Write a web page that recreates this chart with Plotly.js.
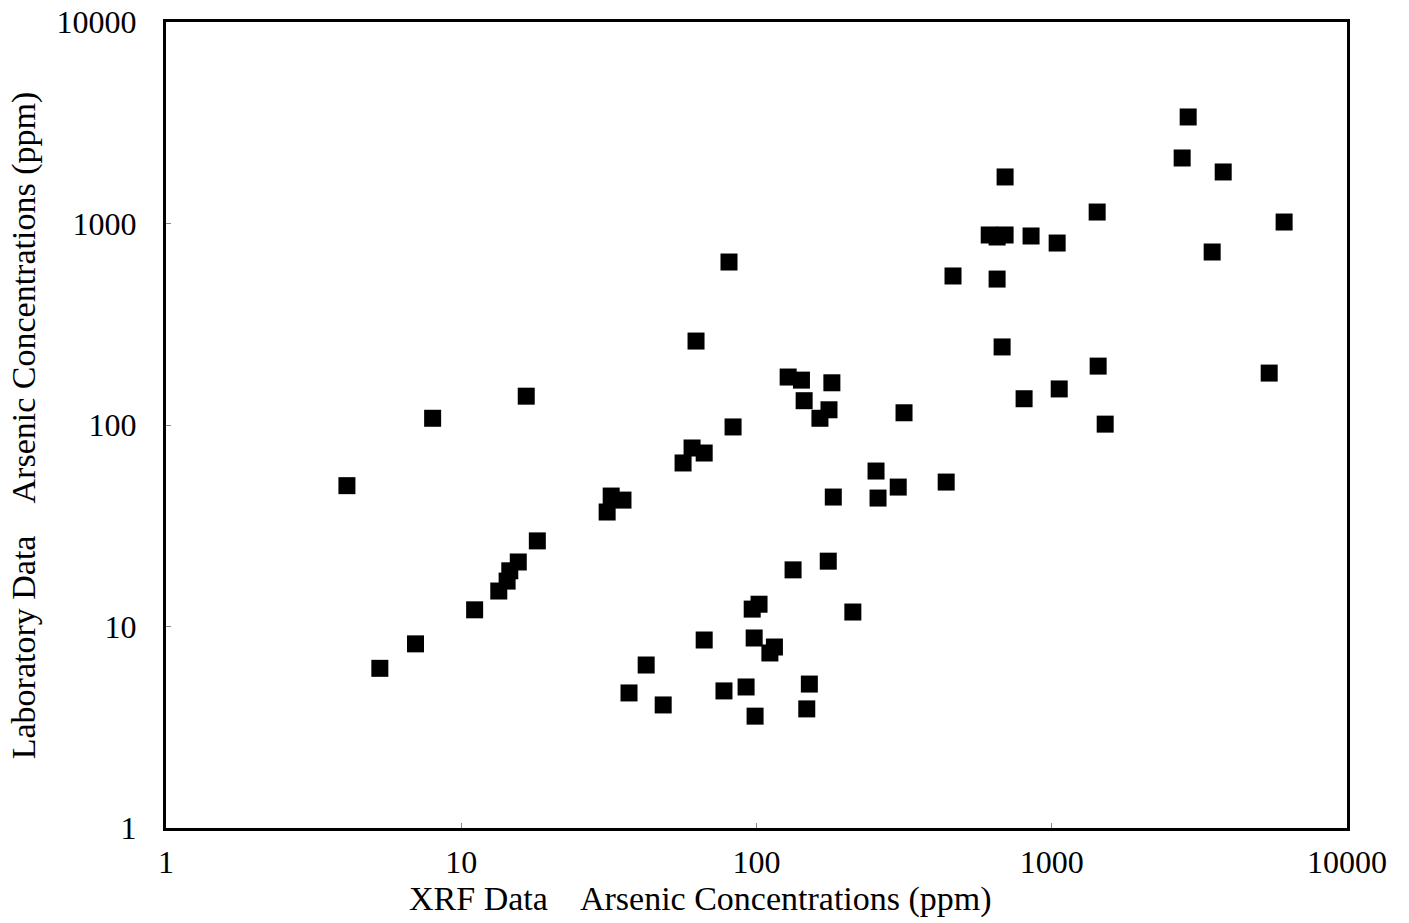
<!DOCTYPE html>
<html>
<head>
<meta charset="utf-8">
<script src="https://cdn.plot.ly/plotly-3.0.1.min.js"></script>
<style>html,body{margin:0;padding:0;background:#fff;}#chart{width:1409px;height:923px;}</style>
</head>
<body>
<div id="chart"></div>
<script>
// XRF arsenic concentrations (ppm)
const xrfData = [4.1, 5.3, 7.0, 8.0, 11.1, 13.4, 14.3, 14.6, 15.6, 16.6, 18.1,
  31.2, 32.2, 35.3, 37.0, 42.3, 48.3, 56.4, 60.5, 66.5, 62.4, 66.5, 77.6, 80.7,
  83.3, 92.2, 96.7, 102, 98.2, 98.9, 111, 115, 128, 133, 142, 145, 151, 148,
  164, 176, 175, 180, 182, 212, 254, 258, 302, 316, 439,
  695, 1425, 2898, 2765, 3808, 6124, 3494, 5451, 614, 653, 695, 851, 1043,
  463, 653, 679, 1436, 1060, 806, 1517];
// Laboratory arsenic concentrations (ppm)
const labData = [50, 6.2, 8.2, 108, 12.1, 15.0, 16.8, 18.9, 20.9, 139, 26.6,
  37.0, 44.4, 42.4, 4.68, 6.44, 4.08, 64.8, 76.9, 72.6, 261, 8.57, 4.79, 644,
  97.8, 5.01, 12.2, 12.9, 8.77, 3.59, 7.39, 7.91, 173, 19.1, 167, 132, 5.18, 3.90,
  108, 119, 21.1, 162, 43.9, 11.8, 59.1, 43.4, 49.2, 115, 52.1,
  1702, 1140, 3378, 2114, 1802, 1017, 722, 181, 877, 857, 877, 867, 800,
  549, 530, 244, 196, 151, 135, 101];
const tickValues = [1, 10, 100, 1000, 10000];
const tickLabels = ["1", "10", "100", "1000", "10000"];
const xTitle = "XRF Data\u00a0\u00a0\u00a0 Arsenic Concentrations (ppm)";
const yTitle = "Laboratory Data\u00a0\u00a0\u00a0 Arsenic Concentrations (ppm)";

const fontFam = "Liberation Serif, Times New Roman, serif";
const axisCommon = {
  type: "log",
  tickmode: "array",
  tickvals: tickValues,
  ticktext: tickLabels,
  showgrid: false,
  zeroline: false,
  showline: true,
  mirror: true,
  linecolor: "#000",
  linewidth: 3,
  ticks: "inside",
  ticklen: 5,
  tickwidth: 1,
  tickcolor: "#888",
  tickfont: {family: fontFam, size: 32, color: "#000"}
};

const trace = {
  type: "scatter",
  mode: "markers",
  x: xrfData,
  y: labData,
  marker: {symbol: "square", size: 17, color: "#000"},
  hoverinfo: "x+y"
};

const layout = {
  width: 1409, height: 923,
  margin: {l: 166, r: 62, t: 22, b: 95},
  paper_bgcolor: "#fff", plot_bgcolor: "#fff",
  showlegend: false,
  xaxis: Object.assign({}, axisCommon, {range: [0, 4], ticklabelstandoff: 4}),
  yaxis: Object.assign({}, axisCommon, {range: [0, 4], ticklabelstandoff: 20}),
  annotations: [
    {text: xTitle, xref: "paper", yref: "paper", x: 0.453, y: -0.088,
     xanchor: "center", yanchor: "middle", showarrow: false,
     font: {family: fontFam, size: 34, color: "#000"}},
    {text: yTitle, xref: "paper", yref: "paper", x: -0.12, y: 0.5,
     xanchor: "center", yanchor: "middle", showarrow: false, textangle: -90,
     font: {family: fontFam, size: 34, color: "#000"}}
  ]
};

Plotly.newPlot("chart", [trace], layout, {displayModeBar: false, staticPlot: true});
</script>
</body>
</html>
